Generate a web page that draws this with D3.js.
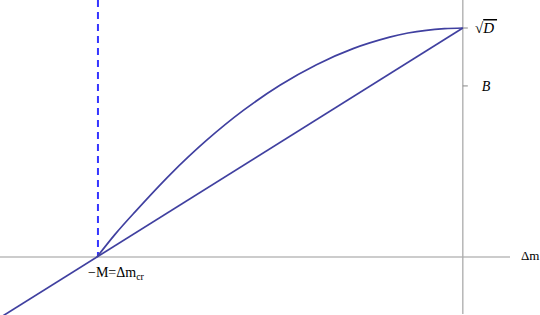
<!DOCTYPE html>
<meta charset="utf-8">
<title>Delta m curve</title>
<style>
  body { margin: 0; background: white; }
  svg { display: block; background: white; }
  svg text { font-family: "Liberation Serif", "Times New Roman", serif; }
</style>
<body>
<div id="chart"></div>
<script src="https://d3js.org/d3.v7.min.js"></script>
<script>
// data (M = 1, sqrt(D) = 1)
var curveX = [-1, -0.95, -0.9, -0.8, -0.7, -0.6, -0.5, -0.4, -0.3, -0.2, -0.15, -0.1, -0.05, 0];
var curveY = [0, 0.10, 0.19, 0.36, 0.51, 0.64, 0.75, 0.84, 0.91, 0.96, 0.978, 0.99, 0.997, 1.0];
var lineX = [-1.35, 0];
var lineY = [-0.35, 1.0];
var critX = -1;          // -M = Δm_cr
var tickVals = [1.0, 0.747];
var tickLabels = ["√D", "B"];

var width = 540, height = 315;

var x = d3.scaleLinear().domain([-1.265, 0.2]).range([0, 536]);
var y = d3.scaleLinear().domain([0, 1]).range([257, 28]);

var svg = d3.select("#chart").append("svg")
    .attr("width", width)
    .attr("height", height);

// axes
svg.append("line")
    .attr("x1", 0).attr("x2", 510)
    .attr("y1", y(0)).attr("y2", y(0))
    .attr("stroke", "#999").attr("stroke-width", 1);

svg.append("line")
    .attr("x1", x(0)).attr("x2", x(0))
    .attr("y1", 0).attr("y2", 314)
    .attr("stroke", "#aaa").attr("stroke-width", 1.3);

// ticks on the vertical axis
svg.selectAll(".tick")
  .data(tickVals)
  .enter().append("line")
    .attr("x1", x(0)).attr("x2", x(0) + 5)
    .attr("y1", function(d) { return y(d); })
    .attr("y2", function(d) { return y(d); })
    .attr("stroke", "#888");

// dashed vertical line at -M
svg.append("line")
    .attr("x1", x(critX) + 1).attr("x2", x(critX) + 1)
    .attr("y1", 0).attr("y2", y(0))
    .attr("stroke", "#3535ff")
    .attr("stroke-width", 2)
    .attr("stroke-dasharray", "7,5");

var lineGen = d3.line()
    .x(function(d) { return x(d[0]); })
    .y(function(d) { return y(d[1]); });

svg.append("path")
    .datum(d3.zip(lineX, lineY))
    .attr("d", lineGen)
    .attr("fill", "none")
    .attr("stroke", "#4040a0")
    .attr("stroke-width", 1.7);

svg.append("path")
    .datum(d3.zip(curveX, curveY))
    .attr("d", lineGen.curve(d3.curveCatmullRom))
    .attr("fill", "none")
    .attr("stroke", "#4040a0")
    .attr("stroke-width", 1.7);

// tick labels
var sq = svg.append("text")
    .attr("x", 486).attr("y", y(1.0) + 5)
    .attr("text-anchor", "middle")
    .style("font-size", "15px");
sq.append("tspan").text("√");
sq.append("tspan").style("font-style", "italic").style("text-decoration", "overline").text("D\u2009");

svg.append("text")
    .attr("x", 486).attr("y", y(0.747) + 5)
    .attr("text-anchor", "middle")
    .style("font-size", "14px")
    .style("font-style", "italic")
    .text(tickLabels[1]);

// axis label
svg.append("text")
    .attr("x", 521).attr("y", y(0) + 3)
    .style("font-size", "13px")
    .text("Δm");

// -M label
var ml = svg.append("text")
    .attr("x", 88).attr("y", 277)
    .style("font-size", "14px");
ml.append("tspan").text("−M=Δm");
ml.append("tspan").attr("dy", 3).style("font-size", "10px").text("cr");
</script>
</body>
